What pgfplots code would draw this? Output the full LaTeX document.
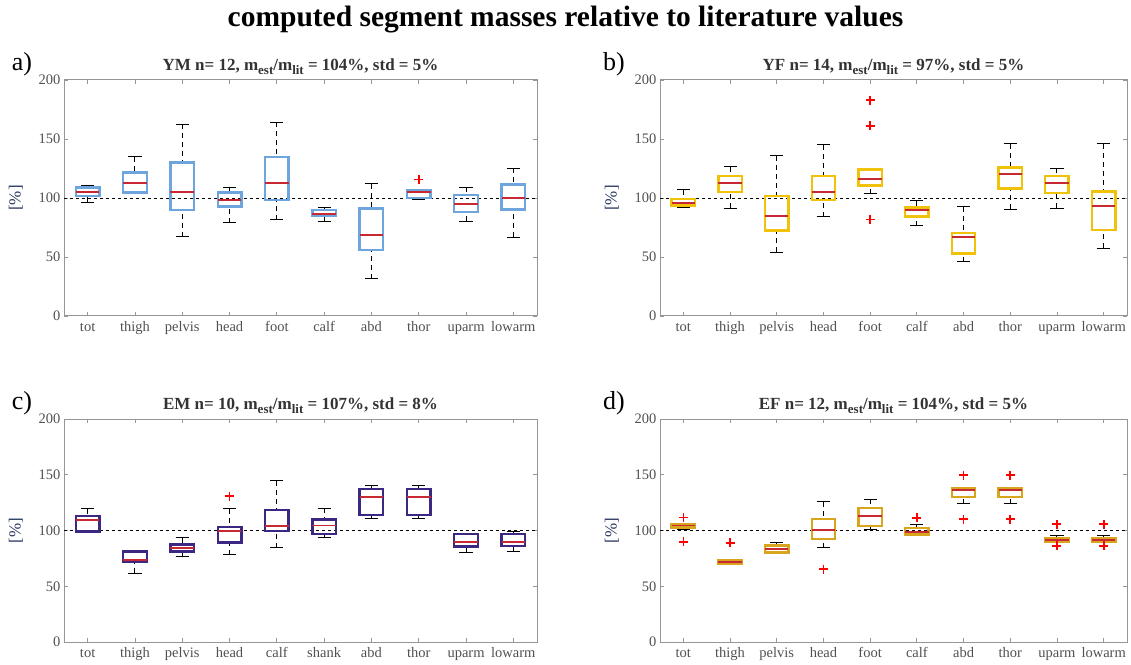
\documentclass[border=0pt]{standalone}
\usepackage{fontspec}
\setmainfont{Liberation Serif}
\usepackage{pgfplots}
\pgfplotsset{compat=1.18}
\usepgfplotslibrary{statistics}
\definecolor{boxA}{RGB}{110,165,220}
\definecolor{boxB}{RGB}{240,195,10}
\definecolor{boxC}{RGB}{60,40,130}
\definecolor{boxD}{RGB}{215,165,30}
\definecolor{med}{RGB}{200,40,50}
\definecolor{axgray}{RGB}{150,150,150}
\definecolor{lblgray}{RGB}{80,80,80}
\definecolor{ylab}{RGB}{40,55,95}
\pgfplotsset{/pgfplots/boxplot/.cd,
    draw direction=y,
    box extend=0.5,
    whisker extend=0.28,
    every median/.style={draw=med, line width=1.8pt},
    draw/lower whisker/.code={
      \draw[black, line width=1pt, dash pattern=on 5pt off 4pt]
        (boxplot cs:\pgfplotsboxplotvalue{lower whisker}) -- (boxplot cs:\pgfplotsboxplotvalue{lower quartile});
      \draw[black, line width=1pt, solid]
        (boxplot whisker cs:\pgfplotsboxplotvalue{lower whisker},0) -- (boxplot whisker cs:\pgfplotsboxplotvalue{lower whisker},1);
    },
    draw/upper whisker/.code={
      \draw[black, line width=1pt, dash pattern=on 5pt off 4pt]
        (boxplot cs:\pgfplotsboxplotvalue{upper whisker}) -- (boxplot cs:\pgfplotsboxplotvalue{upper quartile});
      \draw[black, line width=1pt, solid]
        (boxplot whisker cs:\pgfplotsboxplotvalue{upper whisker},0) -- (boxplot whisker cs:\pgfplotsboxplotvalue{upper whisker},1);
    },
}
\pgfplotsset{
  panel/.style={
    scale only axis, anchor=south west,
    xmin=0.5, xmax=10.5, ymin=0, ymax=200,
    xtick={1,...,10}, ytick={0,50,...,200},
    tick align=inside, major tick length=4pt,
    axis line style={axgray, line width=1pt},
    tick style={axgray, line width=0.8pt},
    ticklabel style={font=\fontsize{14.5}{14.5}\selectfont, text=lblgray},
    x tick label style={text height=1.6ex, text depth=0.4ex, yshift=-5pt},
    /pgf/number format/assume math mode=true,
    ylabel={[\%]}, ylabel style={font=\fontsize{17}{17}\selectfont, text=ylab, yshift=9pt},
    title style={font=\bfseries\fontsize{17}{17}\selectfont, text=black!80, yshift=-4pt},
    clip=false,
  },
  outl/.style={mark=+, mark size=4.5pt, mark options={draw=red, line width=1.7pt}},
}
\def\bcol{boxA}
\newcommand\sub[1]{\raisebox{-0.5ex}{\fontsize{13}{13}\selectfont #1}}
\newcommand\bp[7]{\addplot[outl, draw=\bcol, line width=2.4pt, boxplot prepared={draw position=#1, lower whisker=#2, lower quartile=#3, median=#4, upper quartile=#5, upper whisker=#6, every box/.style={draw=\bcol, line width=2.4pt}}] coordinates {#7};}
\begin{document}
\begin{tikzpicture}
\useasboundingbox (0pt,0pt) rectangle (1131pt,664pt);
\node[font=\bfseries\fontsize{29.5}{29.5}\selectfont, anchor=base] at (565.5pt,637pt) {computed segment masses relative to literature values};
\node[font=\fontsize{26}{26}\selectfont] at (22pt,600pt) {a)};
\node[font=\fontsize{26}{26}\selectfont] at (614pt,600pt) {b)};
\node[font=\fontsize{26}{26}\selectfont] at (22pt,261pt) {c)};
\node[font=\fontsize{26}{26}\selectfont] at (614pt,261pt) {d)};

% panel a
\def\bcol{boxA}
\begin{axis}[panel, at={(64pt,348pt)}, width=473pt, height=236pt,
  xticklabels={tot,thigh,pelvis,head,foot,calf,abd,thor,uparm,lowarm},
  title={YM n= 12, m\sub{est}/m\sub{lit} = 104\%, std = 5\%}]
\addplot[black, dashed, line width=0.8pt] coordinates {(0.5,100) (10.5,100)};
\bp{1}{96.3}{101.7}{105.4}{108.8}{110.5}{}
\bp{2}{103.7}{104.8}{112.4}{121.5}{135}{}
\bp{3}{67.2}{89.8}{104.8}{130}{162.7}{}
\bp{4}{79.1}{92.7}{98.3}{104.5}{109.3}{}
\bp{5}{81.4}{98.3}{113}{134.5}{164.4}{}
\bp{6}{80.2}{84.8}{86.7}{89.8}{92.1}{}
\bp{7}{31.6}{55.7}{68.4}{91}{111.9}{}
\bp{8}{98.9}{100}{105.4}{106.2}{107.4}{(8,115.8)}
\bp{9}{80.5}{87.9}{95.2}{102.5}{109.3}{}
\bp{10}{66.7}{90.4}{100}{111.6}{125.4}{}
\end{axis}

% panel b
\def\bcol{boxB}
\begin{axis}[panel, at={(660pt,348pt)}, width=467pt, height=236pt,
  xticklabels={tot,thigh,pelvis,head,foot,calf,abd,thor,uparm,lowarm},
  title={YF n= 14, m\sub{est}/m\sub{lit} = 97\%, std = 5\%}]
\addplot[black, dashed, line width=0.8pt] coordinates {(0.5,100) (10.5,100)};
\bp{1}{91.8}{93.8}{96}{99.2}{107}{}
\bp{2}{91.5}{105.1}{112.7}{118.4}{126.6}{}
\bp{3}{53.9}{72.3}{84.5}{101.7}{135.6}{}
\bp{4}{83.9}{98.3}{104.8}{118.4}{145.2}{}
\bp{5}{103.4}{110.7}{115.8}{124.3}{124.3}{(5,182.8) (5,161.3) (5,81.9)}
\bp{6}{76.3}{84.2}{89.8}{91.8}{97.7}{}
\bp{7}{45.8}{53.1}{66.7}{70.1}{92.7}{}
\bp{8}{90.4}{108.2}{120.1}{126}{145.8}{}
\bp{9}{91.2}{104}{112.4}{118.7}{125.1}{}
\bp{10}{57.3}{72.9}{93.5}{105.4}{146}{}
\end{axis}

% panel c
\def\bcol{boxC}
\begin{axis}[panel, at={(64pt,22pt)}, width=473pt, height=223pt,
  xticklabels={tot,thigh,pelvis,head,calf,shank,abd,thor,uparm,lowarm},
  title={EM n= 10, m\sub{est}/m\sub{lit} = 107\%, std = 8\%}]
\addplot[black, dashed, line width=0.8pt] coordinates {(0.5,100) (10.5,100)};
\bp{1}{98.1}{99}{109.2}{113.1}{119.7}{}
\bp{2}{61.5}{72.3}{73.5}{81.3}{82.2}{}
\bp{3}{76.5}{81.3}{84.3}{87.3}{93.3}{}
\bp{4}{78.3}{89.4}{99.9}{103.2}{119.4}{(4,130.8)}
\bp{5}{84.6}{99.6}{104.1}{118.5}{144.6}{}
\bp{6}{93.3}{96.6}{104.4}{109.8}{120}{}
\bp{7}{110.7}{114}{129.9}{137.1}{140.1}{}
\bp{8}{110.7}{114}{129.9}{137.1}{140.1}{}
\bp{9}{80.7}{85.5}{89.4}{96.9}{97.5}{}
\bp{10}{81}{86.1}{89.4}{96.9}{98.7}{}
\end{axis}

% panel d
\def\bcol{boxD}
\begin{axis}[panel, at={(660pt,22pt)}, width=467pt, height=223pt,
  xticklabels={tot,thigh,pelvis,head,foot,calf,abd,thor,uparm,lowarm},
  title={EF n= 12, m\sub{est}/m\sub{lit} = 104\%, std = 5\%}]
\addplot[black, dashed, line width=0.8pt] coordinates {(0.5,100) (10.5,100)};
\bp{1}{100.8}{102.6}{104.4}{105.9}{106}{(1,111.6) (1,90)}
\bp{2}{69.3}{69.9}{72}{73.8}{73.8}{(2,88.8)}
\bp{3}{79.2}{80.1}{83.1}{86.7}{89.1}{}
\bp{4}{84.6}{92.4}{100.2}{110.1}{125.7}{(4,65.4)}
\bp{5}{101.1}{104.1}{113.1}{120}{128.1}{}
\bp{6}{95.7}{96.3}{99}{102.3}{105.6}{(6,111.3)}
\bp{7}{123.9}{129.9}{136.5}{138}{138}{(7,149.7) (7,110.1)}
\bp{8}{123.9}{129.9}{136.5}{138}{138}{(8,149.7) (8,110.1)}
\bp{9}{89.7}{90.3}{91.8}{93.3}{95.4}{(9,105.6) (9,86.4)}
\bp{10}{89.7}{90.3}{91.8}{93.3}{95.4}{(10,105.6) (10,86.4)}
\end{axis}
\end{tikzpicture}
\end{document}
